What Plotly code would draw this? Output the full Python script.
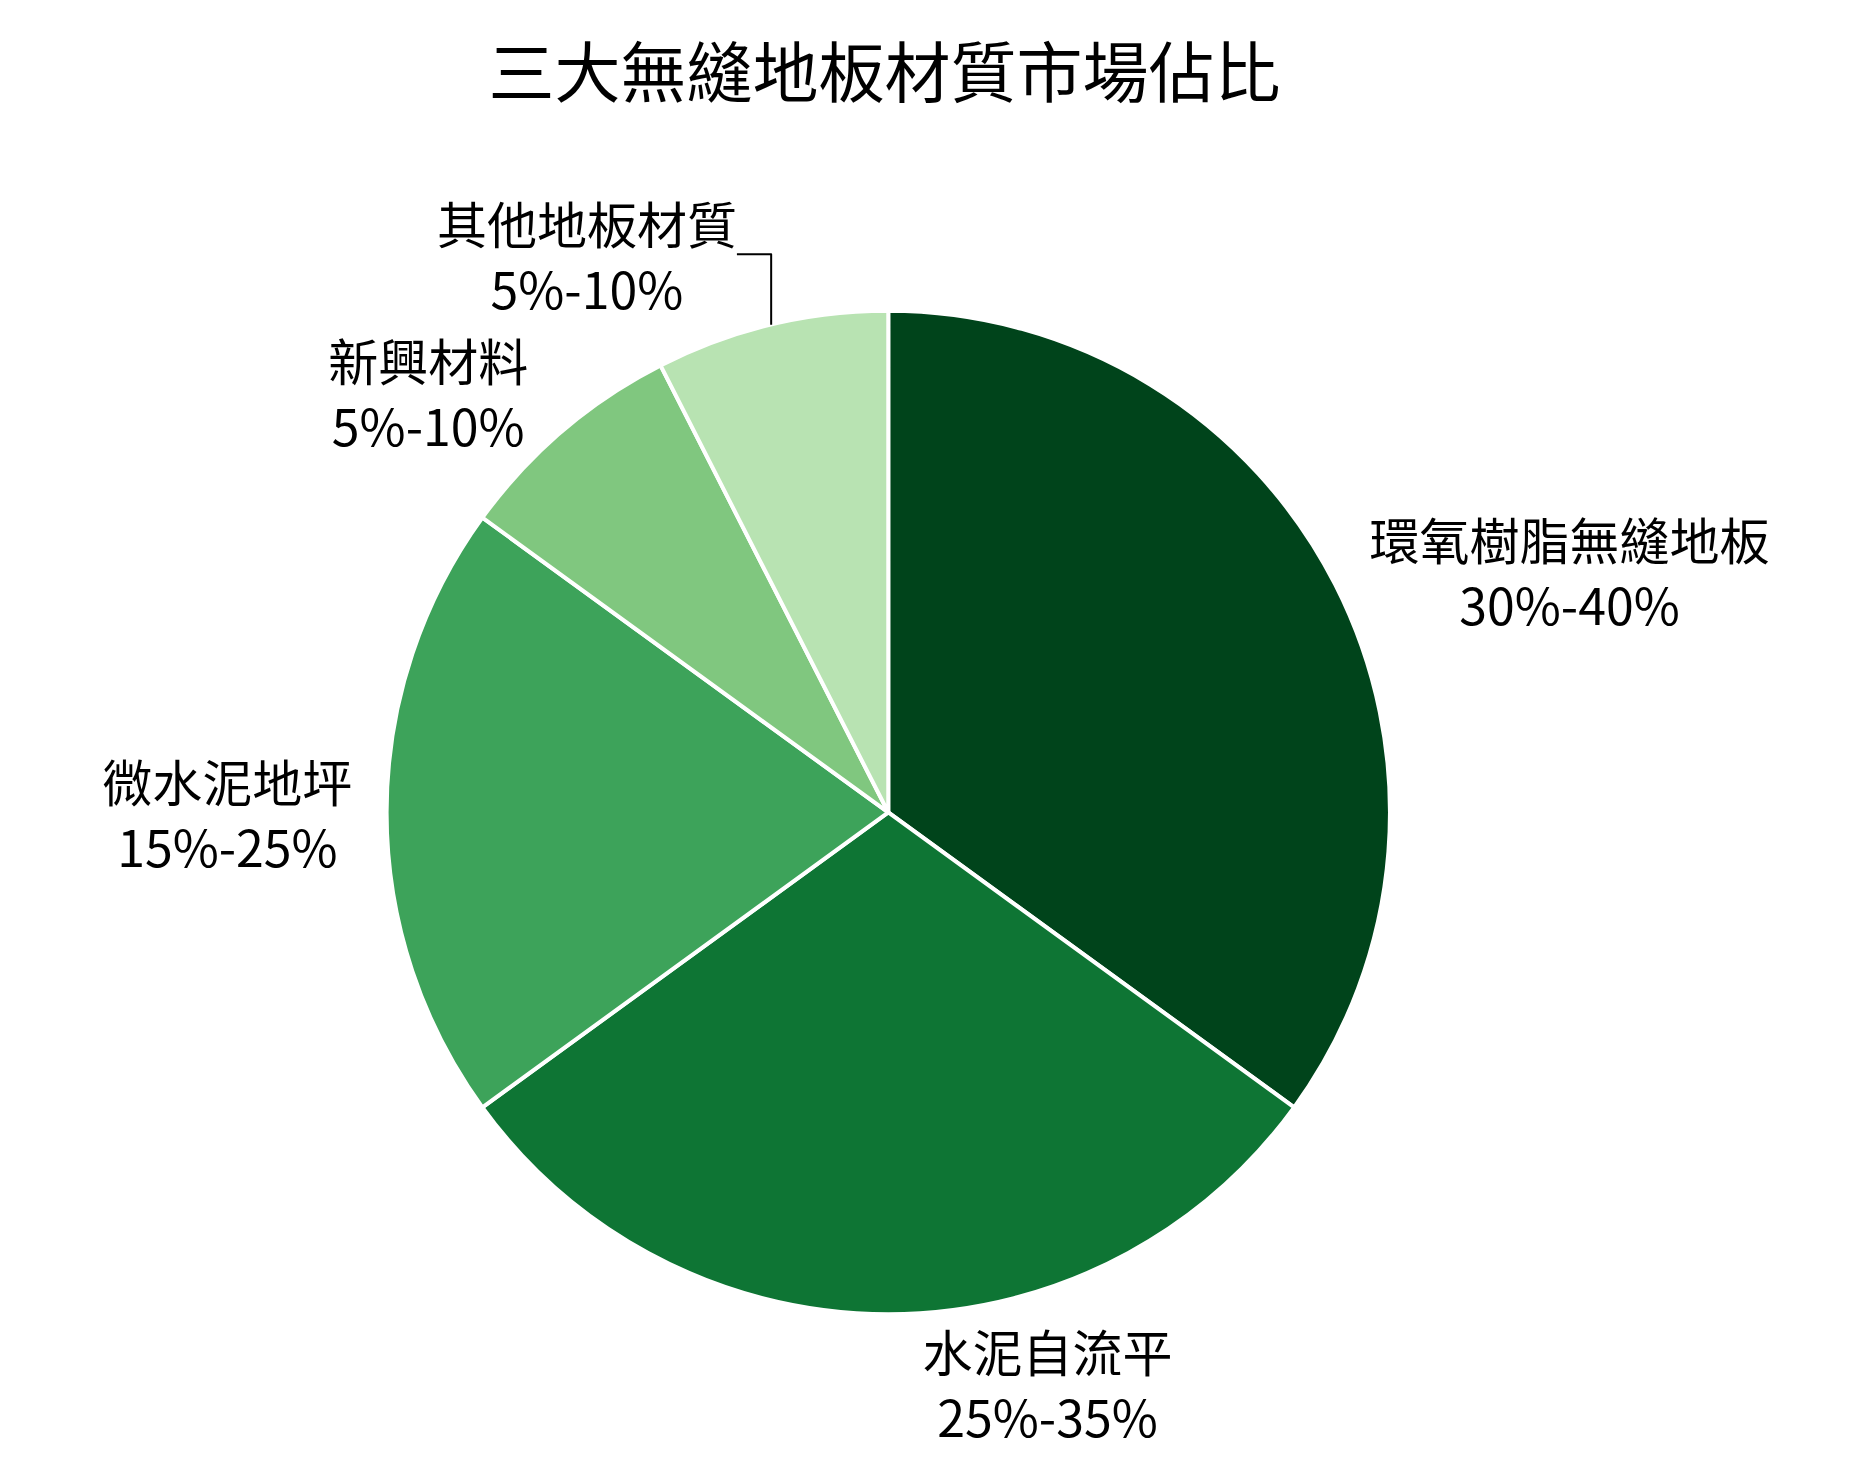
import plotly.graph_objects as go

labels = ["環氧樹脂無縫地板", "水泥自流平", "微水泥地坪", "新興材料", "其他地板材質"]
ranges = ["30%-40%", "25%-35%", "15%-25%", "5%-10%", "5%-10%"]
values = [35, 30, 20, 7.5, 7.5]
colors = ["#00441b", "#0e7534", "#3da35a", "#80c77f", "#b8e3b2"]

fig = go.Figure(go.Pie(
    labels=labels,
    values=values,
    text=[f"{l}<br>{r}" for l, r in zip(labels, ranges)],
    textinfo="text",
    textposition="outside",
    sort=False,
    direction="clockwise",
    rotation=0,
    marker=dict(colors=colors, line=dict(color="white", width=4)),
    textfont=dict(size=50, color="black"),
    domain=dict(x=[0.203, 0.741], y=[0.11, 0.794]),
    showlegend=False,
    automargin=False,
))

fig.update_layout(
    width=1865, height=1468,
    font=dict(family="Noto Sans CJK TC"),
    title=dict(text="三大無縫地板材質市場佔比", x=0.47, xanchor="center", y=0.955, yanchor="middle",
               font=dict(size=66, color="black")),
    paper_bgcolor="white",
    margin=dict(l=0, r=0, t=0, b=0),
)
fig.write_html("out.html")
